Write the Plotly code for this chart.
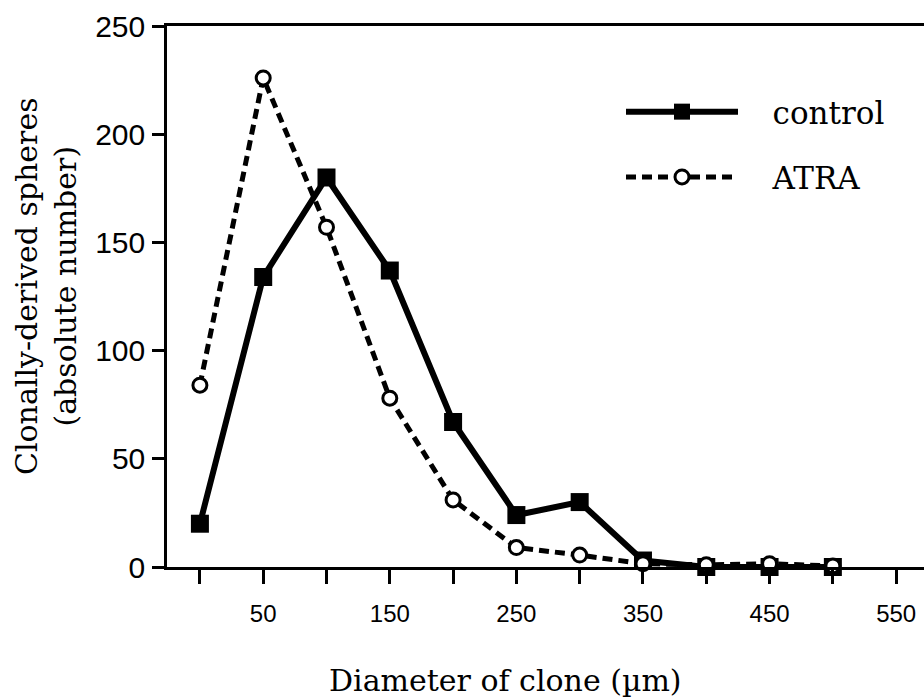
import plotly.graph_objects as go

diameter = [0, 50, 100, 150, 200, 250, 300, 350, 400, 450, 500]
control = [20, 134, 180, 137, 67, 24, 30, 3, 0, 0, 0]
atra = [84, 226, 157, 78, 31, 9, 5.5, 1.5, 1, 1.5, 0.5]

x_tickvals = [0, 50, 100, 150, 200, 250, 300, 350, 400, 450, 500, 550]
x_ticktext = ["", "50", "", "150", "", "250", "", "350", "", "450", "", "550"]
y_tickvals = [0, 50, 100, 150, 200, 250]

SERIF = "DejaVu Serif, Liberation Serif, serif"
SANS = "Liberation Sans, Arial, sans-serif"
GAP = "\u00a0\u00a0\u00a0"

fig = go.Figure()
fig.add_trace(go.Scatter(
    x=diameter, y=control, name=GAP + "control", mode="lines+markers",
    line=dict(color="black", width=6),
    marker=dict(symbol="square", size=18, color="black"),
    cliponaxis=False, legendgroup="a",
))
fig.add_trace(go.Scatter(
    x=diameter, y=atra, name=GAP + "ATRA", mode="lines+markers",
    line=dict(color="black", width=5, dash="10px,6px"),
    marker=dict(symbol="circle", size=14, color="white",
                line=dict(color="black", width=3)),
    cliponaxis=False, legendgroup="b",
))

L, R, T, B = 167, 0, 26, 133
W, H = 924, 700
pw, ph = W - L - R, H - T - B

fig.update_layout(
    width=W, height=H,
    margin=dict(l=L, r=R, t=T, b=B, pad=0),
    paper_bgcolor="white", plot_bgcolor="white",
    showlegend=True,
    legend=dict(
        x=(621 - L) / pw, y=(567 - 85) / ph, xanchor="left", yanchor="top",
        font=dict(family=SERIF, size=31, color="black"),
        itemwidth=112, traceorder="grouped", tracegroupgap=22,
        bgcolor="rgba(0,0,0,0)",
    ),
    xaxis=dict(
        range=[-26, 572], tickmode="array", tickvals=x_tickvals, ticktext=x_ticktext,
        ticks="outside", ticklen=14, tickwidth=2.5, tickcolor="black",
        showline=True, linewidth=2.5, linecolor="black", mirror=True,
        showgrid=False, zeroline=False,
        tickfont=dict(family=SANS, size=24, color="black"),
        ticklabelstandoff=9,
    ),
    yaxis=dict(
        range=[0, 250], tickmode="array", tickvals=y_tickvals,
        ticks="outside", ticklen=12, tickwidth=2.5, tickcolor="black",
        showline=True, linewidth=2.5, linecolor="black",
        showgrid=False, zeroline=False,
        tickfont=dict(family=SANS, size=30, color="black"),
        ticklabelstandoff=1,
    ),
    annotations=[
        dict(text="Diameter of clone (\u00b5m)", xref="paper", yref="paper",
             x=(505 - L) / pw, y=-(680 - 567) / ph, xanchor="center", yanchor="middle",
             showarrow=False, font=dict(family=SERIF, size=30, color="black")),
        dict(text="Clonally-derived spheres<br>(absolute number)", xref="paper", yref="paper",
             x=(46 - L) / pw, y=(567 - 286) / ph, xanchor="center", yanchor="middle",
             textangle=-90, showarrow=False,
             font=dict(family=SERIF, size=30, color="black")),
    ],
)

fig.write_html("out.html")
